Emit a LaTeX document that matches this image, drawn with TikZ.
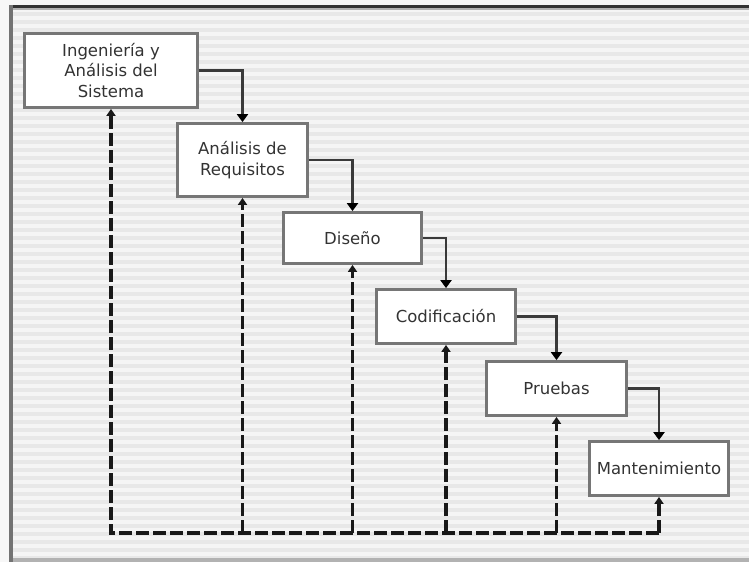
\documentclass[tikz,border=0pt]{standalone}
\usepackage{fontspec}
\setmainfont{DejaVu Sans}
\usetikzlibrary{arrows.meta}

\definecolor{bgLight}{HTML}{F5F5F5}
\definecolor{bgStripe}{HTML}{E8E8E8}
\definecolor{boxEdge}{HTML}{767676}
\definecolor{flowLine}{HTML}{3A3A3A}
\definecolor{labelInk}{HTML}{333333}

\tikzset{
  stage/.style={draw=boxEdge, line width=2.8pt, fill=white, align=center,
    text=labelInk, font=\fontsize{16.5}{20.5}\selectfont, inner sep=2pt},
  flow/.style={draw=flowLine, line width=2.3pt,
    -{Triangle[width=11pt,length=8pt,fill=black,color=black]}},
  feedback/.style={draw=black!90, line width=3.4pt,
    dash pattern=on 13pt off 4pt},
  fbtip/.style={-{Triangle[width=9pt,length=7pt]}},
}

\begin{document}
\begin{tikzpicture}[x=1pt,y=-1pt]
  % canvas and striped background
  \useasboundingbox (0,0) rectangle (749,562);
  \fill[white!97!black] (0,0) rectangle (749,562);
  \fill[bgLight] (10,8) rectangle (749,558);
  \foreach \k in {0,...,68} {
    \fill[bgStripe] (12,{12+\k*8}) rectangle (749,{15.5+\k*8});
  }
  % frame edges
  \fill[black!80] (9,4.5) rectangle (749,7.5);
  \fill[black!30] (12,7.5) rectangle (749,10);
  \fill[black!55] (8.5,4.5) rectangle (12.5,562);
  \fill[black!30] (12.5,557.5) rectangle (749,562);

  % process stages
  \node[stage, minimum width=173pt, minimum height=74pt] (b1) at (111,70.5)
    {Ingeniería y\\Análisis del\\Sistema};
  \node[stage, minimum width=130pt, minimum height=73pt] (b2) at (242.5,160)
    {Análisis de\\Requisitos};
  \node[stage, minimum width=138pt, minimum height=51pt] (b3) at (352.5,238)
    {Diseño};
  \node[stage, minimum width=139pt, minimum height=54pt] (b4) at (446,316.5)
    {Codificación};
  \node[stage, minimum width=140pt, minimum height=54pt] (b5) at (556.5,388.5)
    {Pruebas};
  \node[stage, minimum width=139pt, minimum height=54pt] (b6) at (659,468.5)
    {Mantenimiento};

  % forward cascade
  \draw[flow] (b1.east) -| (b2.north);
  \draw[flow] (b2.east) -| (b3.north);
  \draw[flow] (b3.east) -| (b4.north);
  \draw[flow] (b4.east) -| (b5.north);
  \draw[flow] (b5.east) -| (b6.north);

  % feedback loop back to every stage
  \coordinate (base) at (0,533);
  \draw[feedback, fbtip] (b6.south |- base) -- (b1.south |- base) -- (b1.south);
  \draw[feedback, fbtip] (b6.south |- base) -- (b6.south);
  \foreach \n in {b2,b3,b4,b5} {
    \draw[feedback, fbtip] (\n.south |- base) -- (\n.south);
  }
\end{tikzpicture}
\end{document}
